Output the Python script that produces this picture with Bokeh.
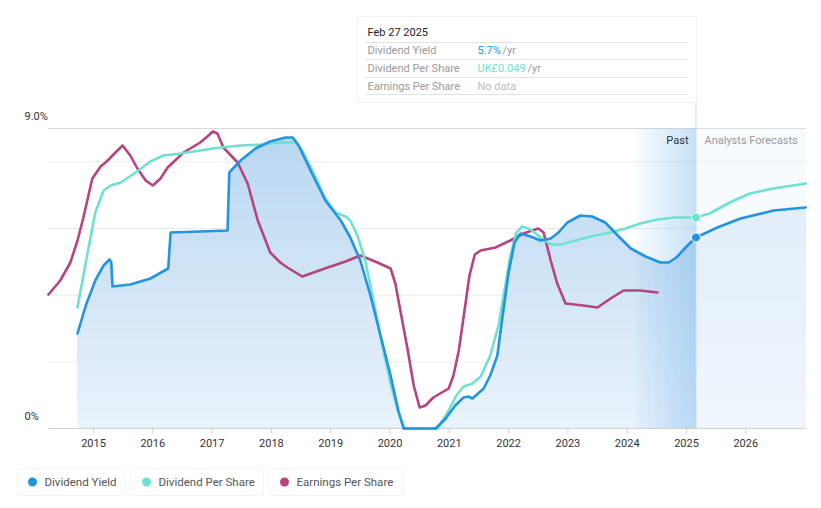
import numpy as np
from bokeh.plotting import figure
from bokeh.models import Range1d, BoxAnnotation
from bokeh.embed import file_html
from bokeh.resources import INLINE
from bokeh.core.properties import value

# ---------------- data ----------------
dy_years = [2014.73, 2014.87, 2015.03, 2015.17, 2015.27, 2015.30, 2015.32, 2015.62, 2015.96, 2016.26,
            2016.30, 2016.80, 2017.26, 2017.29, 2017.48, 2017.73, 2017.98, 2018.24, 2018.36, 2018.46,
            2018.66, 2018.91, 2019.17, 2019.33, 2019.50, 2019.67, 2019.84, 2020.01, 2020.14, 2020.23,
            2020.77, 2020.94, 2021.10, 2021.24, 2021.32, 2021.39, 2021.58, 2021.69, 2021.81, 2021.90,
            2022.00, 2022.10, 2022.20, 2022.37, 2022.54, 2022.71, 2022.84, 2022.99, 2023.21, 2023.41,
            2023.63, 2023.84, 2024.06, 2024.31, 2024.56, 2024.70, 2024.83, 2025.00, 2025.16]
dy_vals = [2.85, 3.69, 4.44, 4.89, 5.07, 4.98, 4.26, 4.32, 4.50, 4.80,
           5.88, 5.91, 5.94, 7.68, 8.04, 8.40, 8.61, 8.73, 8.73, 8.49,
           7.74, 6.84, 6.24, 5.73, 5.04, 3.99, 2.79, 1.59, 0.54, 0.0,
           0.0, 0.30, 0.69, 0.93, 0.96, 0.90, 1.20, 1.59, 2.19, 3.39,
           4.68, 5.58, 5.85, 5.76, 5.64, 5.70, 5.88, 6.18, 6.39, 6.36,
           6.18, 5.79, 5.40, 5.16, 4.98, 4.98, 5.13, 5.46, 5.73]
dyf_years = [2025.16, 2025.52, 2025.91, 2026.47, 2027.01]
dyf_vals = [5.73, 6.03, 6.30, 6.54, 6.63]

dps_years = [2014.73, 2014.87, 2015.03, 2015.17, 2015.29, 2015.46, 2015.71, 2015.96, 2016.18, 2016.47,
             2016.80, 2017.14, 2017.48, 2017.82, 2018.15, 2018.41, 2018.52, 2018.69, 2018.91, 2019.08,
             2019.25, 2019.33, 2019.45, 2019.59, 2019.72, 2019.87, 2020.01, 2020.13, 2020.24, 2020.80,
             2020.97, 2021.12, 2021.24, 2021.39, 2021.53, 2021.69, 2021.83, 2021.93, 2022.03, 2022.13,
             2022.23, 2022.37, 2022.54, 2022.71, 2022.88, 2023.13, 2023.38, 2023.72, 2023.97, 2024.22,
             2024.51, 2024.81, 2025.16]
dps_vals = [3.63, 4.98, 6.48, 7.14, 7.29, 7.38, 7.68, 8.01, 8.19, 8.25,
            8.34, 8.43, 8.49, 8.52, 8.58, 8.58, 8.34, 7.74, 6.90, 6.48,
            6.36, 6.24, 5.79, 4.98, 3.84, 2.49, 1.35, 0.54, 0.0, 0.0,
            0.48, 0.99, 1.26, 1.35, 1.56, 2.19, 3.09, 4.14, 5.19, 5.88,
            6.06, 5.97, 5.73, 5.52, 5.52, 5.64, 5.76, 5.88, 6.00, 6.15,
            6.27, 6.33, 6.33]
dpsf_years = [2025.16, 2025.39, 2025.73, 2026.07, 2026.46, 2027.01]
dpsf_vals = [6.33, 6.45, 6.78, 7.05, 7.20, 7.35]

eps_years = [2014.24, 2014.44, 2014.61, 2014.73, 2014.83, 2014.98, 2015.12, 2015.24, 2015.37, 2015.49,
             2015.62, 2015.74, 2015.88, 2016.00, 2016.13, 2016.25, 2016.52, 2016.80, 2016.92, 2017.01,
             2017.09, 2017.19, 2017.43, 2017.60, 2017.77, 2017.98, 2018.15, 2018.27, 2018.52, 2018.95,
             2019.25, 2019.50, 2019.79, 2020.01, 2020.09, 2020.19, 2020.30, 2020.40, 2020.50, 2020.60,
             2020.73, 2020.99, 2021.07, 2021.16, 2021.24, 2021.34, 2021.43, 2021.53, 2021.78, 2022.03,
             2022.25, 2022.50, 2022.59, 2022.71, 2022.82, 2022.96, 2023.26, 2023.50, 2023.72, 2023.94,
             2024.22, 2024.51]
eps_vals = [4.02, 4.44, 4.98, 5.64, 6.33, 7.50, 7.86, 8.04, 8.28, 8.49,
            8.19, 7.80, 7.44, 7.29, 7.50, 7.83, 8.28, 8.58, 8.76, 8.91,
            8.85, 8.43, 7.98, 7.35, 6.24, 5.28, 4.98, 4.83, 4.56, 4.83,
            5.01, 5.19, 4.98, 4.80, 4.35, 3.39, 2.34, 1.29, 0.63, 0.69,
            0.93, 1.20, 1.59, 2.34, 3.33, 4.59, 5.22, 5.34, 5.43, 5.64,
            5.85, 6.00, 5.88, 5.04, 4.35, 3.75, 3.69, 3.63, 3.90, 4.14,
            4.14, 4.08]

year_ticks = [2015, 2016, 2017, 2018, 2019, 2020, 2021, 2022, 2023, 2024, 2025, 2026]
tick_labels = [str(y) for y in year_ticks]
grid_levels = [2, 4, 6, 8]
y_top = 9.0
y_labels = ["9.0%", "0%"]
past_start = 2024.15
now_year = 2025.16
x_end = 2027.01
x_begin = 2014.24

legend_names = ["Dividend Yield", "Dividend Per Share", "Earnings Per Share"]

tooltip_title = "Feb 27 2025"
tooltip_rows = ["Dividend Yield", "Dividend Per Share", "Earnings Per Share"]
tooltip_values = ["5.7%", "UK£0.049", "No data"]

# ---------------- styling ----------------
C_DY = "#2394df"
C_DPS = "#6fe1d0"
C_EPS = "#b5447f"
FONT = value("Roboto")

W, H = 813, 500


def X(px):  # screenshot pixel -> year
    return 2015 + (px - 93) / 59.3


def Y(py):  # screenshot pixel -> percent
    return (428 - py) / (300 / 9)


p = figure(width=W, height=H, output_backend="svg", toolbar_location=None,
           x_range=Range1d(X(0), X(W)), y_range=Range1d(Y(H), Y(0)),
           x_axis_type=None, y_axis_type=None, min_border=0)
p.outline_line_color = None
p.xgrid.visible = False
p.ygrid.visible = False
p.background_fill_color = "white"
p.border_fill_color = "white"

# gridlines
p.segment(x0=[x_begin] * len(grid_levels), x1=[x_end] * len(grid_levels),
          y0=grid_levels, y1=grid_levels, line_color="#ececec", line_width=1)
p.segment(x0=[x_begin], x1=[x_end], y0=[y_top], y1=[y_top], line_color="#d8d8d8", line_width=1)


def hexcol(c):
    return "#%02x%02x%02x" % tuple(int(round(v)) for v in c)


# gradient area under dividend yield (each layer drawn from its level up to the curve)
def grad_area(xs, ys, strength):
    xs = np.asarray(xs, float)
    ys = np.asarray(ys, float)
    n = 40
    top = np.array([184, 214, 241])
    bot = np.array([234, 243, 252])
    white = np.array([255, 255, 255])
    for k in range(n):
        a = y_top * k / n
        t = (k + 0.5) / n
        c = bot + (top - bot) * t
        c = white + (c - white) * strength
        y1 = np.minimum(ys, a)
        p.varea(x=xs, y1=y1, y2=ys, fill_color=hexcol(c))


grad_area(dy_years, dy_vals, 1.0)
grad_area(dyf_years, dyf_vals, 0.6)

# past band with horizontal gradient
nb = 16
edges = np.linspace(past_start, now_year, nb + 1)
for k in range(nb):
    al = 0.04 + 0.32 * (k + 0.5) / nb
    p.quad(left=[edges[k]], right=[edges[k + 1]], bottom=[0], top=[y_top],
           fill_color="#5fa9e6", fill_alpha=al, line_color=None)
# faint forecast backdrop
p.quad(left=[now_year], right=[x_end], bottom=[0], top=[y_top],
       fill_color="#eaf3fc", fill_alpha=0.35, line_color=None)

# axis baseline and ticks
p.segment(x0=[x_begin], x1=[x_end], y0=[0], y1=[0], line_color="#d0d0d0", line_width=1)
p.segment(x0=year_ticks, x1=year_ticks, y0=[0] * len(year_ticks), y1=[Y(433)] * len(year_ticks),
          line_color="#d0d0d0", line_width=1)

# now line
p.segment(x0=[now_year], x1=[now_year], y0=[0], y1=[Y(102)], line_color="#c9dceb", line_width=1)

# lines
LW = 2.6
for xs, ys, c in [(eps_years, eps_vals, C_EPS), (dps_years, dps_vals, C_DPS),
                  (dpsf_years, dpsf_vals, C_DPS), (dy_years, dy_vals, C_DY),
                  (dyf_years, dyf_vals, C_DY)]:
    p.line(xs, ys, line_color=c, line_width=LW, line_join="round", line_cap="round")
p.scatter([now_year], [dps_vals[-1]], size=9, fill_color=C_DPS, line_color="white", line_width=1)
p.scatter([now_year], [dy_vals[-1]], size=9, fill_color=C_DY, line_color="white", line_width=1)

# axis labels
p.text(x=year_ticks, y=[Y(442)] * len(year_ticks), text=tick_labels, text_font=FONT,
       text_font_size="11px", text_color="#333333", text_align="center", text_baseline="middle")
p.text(x=[X(24), X(24)], y=[Y(116), Y(416)], text=y_labels, text_font=FONT,
       text_font_size="11px", text_color="#333333", text_align="left", text_baseline="middle")

# past / forecast labels
p.text(x=[X(688)], y=[Y(140)], text=["Past"], text_font=FONT, text_font_size="11px",
       text_color="#333333", text_align="right", text_baseline="middle")
p.text(x=[X(704)], y=[Y(140)], text=["Analysts Forecasts"], text_font=FONT, text_font_size="11px",
       text_color="#999999", text_align="left", text_baseline="middle")

# tooltip
p.add_layout(BoxAnnotation(left=X(357), right=X(696), top=Y(16), bottom=Y(102),
                           fill_color="white", fill_alpha=1, line_color="#d6d6d6", line_width=1,
                           level="underlay"))
seps = [Y(42), Y(59), Y(77), Y(94)]
p.segment(x0=[X(365)] * 4, x1=[X(688)] * 4, y0=seps, y1=seps, line_color="#e2e2e2", line_width=1)
p.text(x=[X(367)], y=[Y(32)], text=[tooltip_title], text_font=FONT, text_font_size="11px",
       text_color="#222222", text_align="left", text_baseline="middle")
row_y = [Y(50), Y(68), Y(86)]
p.text(x=[X(367)] * 3, y=row_y, text=tooltip_rows, text_font=FONT, text_font_size="11px",
       text_color="#9a9a9a", text_align="left", text_baseline="middle")
p.text(x=[X(477)] * 3, y=row_y, text=tooltip_values, text_font=FONT, text_font_size="11px",
       text_color=[C_DY, C_DPS, "#bbbbbb"], text_align="left", text_baseline="middle")
p.text(x=[X(502), X(527)], y=row_y[:2], text=["/yr", "/yr"], text_font=FONT, text_font_size="11px",
       text_color="#9a9a9a", text_align="left", text_baseline="middle")

# legend
boxes = [(17, 125), (130, 263), (269, 403)]
dots = [32, 146, 284]
cols = [C_DY, C_DPS, C_EPS]
for (l, r) in boxes:
    p.add_layout(BoxAnnotation(left=X(l), right=X(r), top=Y(468), bottom=Y(495),
                               fill_color="white", fill_alpha=1, line_color="#d9d9d9",
                               line_width=1, border_radius=3, level="underlay"))
p.scatter([X(d) for d in dots], [Y(481.5)] * 3, size=9, fill_color=cols, line_color=None)
p.text(x=[X(d + 12) for d in dots], y=[Y(481.5)] * 3, text=legend_names, text_font=FONT,
       text_font_size="11.5px", text_color="#555555", text_align="left", text_baseline="middle")

open("out.html", "w").write(file_html(p, INLINE))
